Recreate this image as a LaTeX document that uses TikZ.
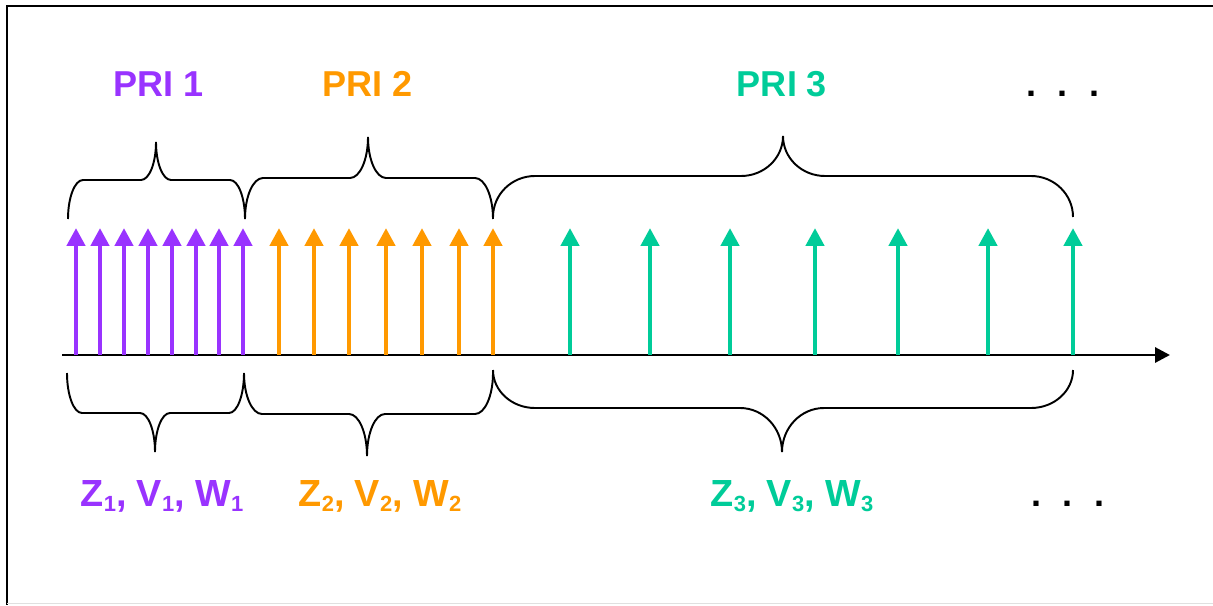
\documentclass[tikz,border=0pt]{standalone}
\usepackage{fontspec}
\setmainfont{Liberation Sans}
\usepackage{tikz}
\usetikzlibrary{arrows.meta,positioning}
\definecolor{prione}{HTML}{9933FF}
\definecolor{pritwo}{HTML}{FF9900}
\definecolor{prithree}{HTML}{00CC99}
\newcommand{\subidx}[1]{\raisebox{-3pt}{\fontsize{12.5}{13}\selectfont #1}}

\begin{document}
\begin{tikzpicture}[x=0.02cm, y=0.02cm,
    pulse/.style={line width=2.8pt, -{Triangle[length=10.2pt,width=10.2pt]}},
    axisline/.style={line width=1.7pt, -{Triangle[length=8.5pt,width=8.5pt]}},
    curly/.style={black, line width=1.1pt},
    lbl/.style={font=\fontsize{20.5}{24}\selectfont\bfseries, anchor=base, inner sep=0pt},
    sublbl/.style={lbl, font=\fontsize{21.5}{24}\selectfont\bfseries}]
    \useasboundingbox (0,0) rectangle (1213,-605);
    % frame
    \draw [black, line width=1.1pt] (1213,-6) -- (7,-6) -- (7,-605);
    \draw [black!12, line width=0.8pt] (7,-603.5) -- (1213,-603.5);
    % time axis
    \coordinate (o) at (62,-355);
    \coordinate (tend) at (1170,-355);
    \draw [axisline] (o) -- (tend);
    % pulses
    \foreach \x [count=\i] in {76,100,124,148,172,196,219,243}
        \draw [pulse, prione] (\x,-355) coordinate (pa\i) -- (\x,-228) coordinate (ta\i);
    \foreach \x [count=\i] in {279,314,349,386,422,459,493}
        \draw [pulse, pritwo] (\x,-355) coordinate (pb\i) -- (\x,-228) coordinate (tb\i);
    \foreach \x [count=\i] in {570,650,730,815,898,988,1073}
        \draw [pulse, prithree] (\x,-355) coordinate (pc\i) -- (\x,-228) coordinate (tc\i);
    % upper braces
    \coordinate (ua) at (68,-219);
    \coordinate (ub) at (245,-219);
    \coordinate (uc) at (493,-217);
    \draw [curly] (ua) arc[start angle=180, end angle=90, x radius=15, y radius=39] -- ++(58,0)
        arc[start angle=270, end angle=360, x radius=15, y radius=38]
        arc[start angle=180, end angle=270, x radius=15, y radius=38] -- ++(59,0)
        arc[start angle=90, end angle=0, x radius=15, y radius=39];
    \draw [curly] (ub) arc[start angle=180, end angle=90, x radius=18, y radius=41] -- ++(87,0)
        arc[start angle=270, end angle=360, x radius=18, y radius=41]
        arc[start angle=180, end angle=270, x radius=18, y radius=41] -- ++(89,0)
        arc[start angle=90, end angle=0, x radius=18, y radius=41];
    \draw [curly] (uc) arc[start angle=180, end angle=90, x radius=42, y radius=41] -- ++(206,0)
        arc[start angle=270, end angle=360, x radius=42, y radius=40]
        arc[start angle=180, end angle=270, x radius=42, y radius=40] -- ++(206,0)
        arc[start angle=90, end angle=0, x radius=42, y radius=41];
    % lower braces
    \coordinate (la) at (67,-373);
    \coordinate (lb) at (244,-373);
    \coordinate (lc) at (493,-370);
    \draw [curly] (la) arc[start angle=180, end angle=270, x radius=15, y radius=40] -- ++(58,0)
        arc[start angle=90, end angle=0, x radius=15, y radius=39]
        arc[start angle=180, end angle=90, x radius=15, y radius=39] -- ++(59,0)
        arc[start angle=270, end angle=360, x radius=15, y radius=40];
    \draw [curly] (lb) arc[start angle=180, end angle=270, x radius=18, y radius=41] -- ++(87,0)
        arc[start angle=90, end angle=0, x radius=18, y radius=42]
        arc[start angle=180, end angle=90, x radius=18, y radius=42] -- ++(90,0)
        arc[start angle=270, end angle=360, x radius=18, y radius=41];
    \draw [curly] (lc) arc[start angle=180, end angle=270, x radius=42, y radius=38] -- ++(205,0)
        arc[start angle=90, end angle=0, x radius=42, y radius=44]
        arc[start angle=180, end angle=90, x radius=42, y radius=44] -- ++(207,0)
        arc[start angle=270, end angle=360, x radius=42, y radius=38];
    % labels
    \node [lbl, prione] (pri1) at (159,-96) {PRI 1};
    \node [lbl, pritwo] (pri2) at (368,-96) {PRI 2};
    \node [lbl, prithree] (pri3) at (782,-96) {PRI 3};
    \node [lbl] (moreup) at (1063,-96) {.\hspace{12.5pt}.\hspace{12.5pt}.};
    \node [sublbl, prione] (zvw1) at (162,-506) {Z\subidx{1}, V\subidx{1}, W\subidx{1}};
    \node [sublbl, pritwo] (zvw2) at (380,-506) {Z\subidx{2}, V\subidx{2}, W\subidx{2}};
    \node [sublbl, prithree] (zvw3) at (792,-506) {Z\subidx{3}, V\subidx{3}, W\subidx{3}};
    \node [lbl] (moredown) at (1068,-506) {.\hspace{12.5pt}.\hspace{12.5pt}.};
\end{tikzpicture}
\end{document}
